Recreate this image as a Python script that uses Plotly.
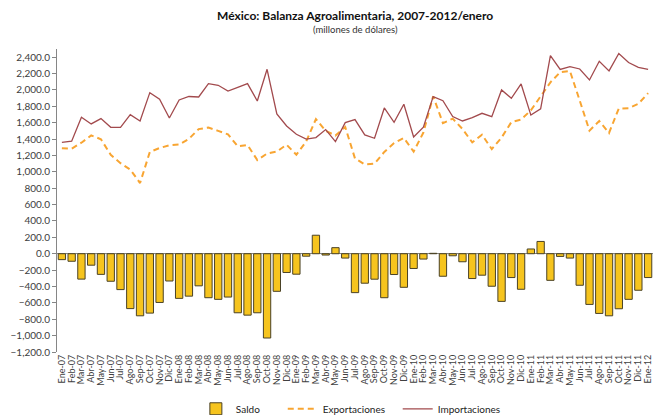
import plotly.graph_objects as go

categorias = [
    "Ene-07", "Feb-07", "Mar-07", "Abr-07", "May-07", "Jun-07", "Jul-07", "Ago-07", "Sep-07", "Oct-07", "Nov-07", "Dic-07",
    "Ene-08", "Feb-08", "Mar-08", "Abr-08", "May-08", "Jun-08", "Jul-08", "Ago-08", "Sep-08", "Oct-08", "Nov-08", "Dic-08",
    "Ene-09", "Feb-09", "Mar-09", "Abr-09", "May-09", "Jun-09", "Jul-09", "Ago-09", "Sep-09", "Oct-09", "Nov-09", "Dic-09",
    "Ene-10", "Feb-10", "Mar-10", "Abr-10", "May-10", "Jun-10", "Jul-10", "Ago-10", "Sep-10", "Oct-10", "Nov-10", "Dic-10",
    "Ene-11", "Feb-11", "Mar-11", "Abr-11", "May-11", "Jun-11", "Jul-11", "Ago-11", "Sep-11", "Oct-11", "Nov-11", "Dic-11",
    "Ene-12",
]

importaciones = [
    1360, 1374, 1666, 1585, 1650, 1544, 1544, 1698, 1621, 1967, 1886, 1658,
    1878, 1920, 1914, 2077, 2057, 1987, 2032, 2077, 1865, 2252, 1707, 1560,
    1459, 1400, 1418, 1516, 1369, 1601, 1638, 1451, 1410, 1780, 1605, 1825,
    1426, 1545, 1918, 1869, 1675, 1621, 1662, 1715, 1674, 2000, 1898, 2073,
    1693, 1770, 2418, 2250, 2284, 2256, 2122, 2350, 2233, 2445, 2335, 2276,
    2252,
]

exportaciones = [
    1288, 1282, 1356, 1445, 1398, 1208, 1106, 1028, 863, 1242, 1291, 1325,
    1333, 1402, 1522, 1540, 1500, 1458, 1311, 1327, 1144, 1223, 1248, 1331,
    1209, 1370, 1644, 1500, 1443, 1548, 1163, 1091, 1099, 1243, 1351, 1415,
    1246, 1480, 1923, 1594, 1650, 1523, 1359, 1453, 1277, 1418, 1607, 1639,
    1751, 1920, 2093, 2217, 2231, 1871, 1503, 1621, 1475, 1773, 1778, 1830,
    1961,
]

saldo = [
    -72, -92, -310, -140, -252, -336, -438, -670, -758, -725, -595, -333,
    -545, -518, -392, -537, -557, -529, -721, -750, -721, -1029, -459, -229,
    -250, -30, 226, -16, 74, -53, -475, -360, -311, -537, -254, -410,
    -180, -65, 5, -275, -25, -98, -303, -262, -397, -582, -291, -434,
    58, 150, -325, -33, -53, -385, -619, -729, -758, -672, -557, -446,
    -291,
]

y_ticks = [-1200, -1000, -800, -600, -400, -200, 0, 200, 400, 600, 800, 1000, 1200,
           1400, 1600, 1800, 2000, 2200, 2400]

FONT = "Lato"
TXT = "#404040"
NB = "\u00a0"

fig = go.Figure()
fig.add_trace(go.Bar(
    x=categorias, y=saldo, name="Saldo" + NB * 7,
    marker=dict(color="#F6C41E", line=dict(color="#4A4226", width=1)),
))
fig.add_trace(go.Scatter(
    x=categorias, y=exportaciones, name="Exportaciones" + NB * 3, mode="lines",
    line=dict(color="#F8A532", width=2, dash="6px,4px"),
))
fig.add_trace(go.Scatter(
    x=categorias, y=importaciones, name="Importaciones", mode="lines",
    line=dict(color="#A24A4D", width=1.3),
))

fig.update_layout(
    width=662, height=415,
    margin=dict(l=57, r=9, t=49, b=63, autoexpand=False),
    paper_bgcolor="white", plot_bgcolor="white",
    font=dict(family=FONT, size=10, color=TXT),
    bargap=0.25,
    showlegend=True,
    legend=dict(orientation="h", xref="container", yref="container",
                x=0.53, xanchor="center", y=0.015, yanchor="middle",
                font=dict(family=FONT, size=10, color="#222222"), traceorder="normal"),
    annotations=[
        dict(text="<b>México: Balanza Agroalimentaria, 2007-2012/enero</b>", xref="paper", yref="paper",
             x=0.5, y=0.112, xanchor="center", yanchor="middle", showarrow=False,
             font=dict(family=FONT, size=12, color="#111111")),
        dict(text="(millones de dólares)", xref="paper", yref="paper",
             x=0.5, y=0.063, xanchor="center", yanchor="middle", showarrow=False,
             font=dict(family=FONT, size=9.5, color="#333333")),
    ],
)
# annotations positioned relative to the top of the plot area
for a in fig.layout.annotations:
    a.y = 1 + a.y

fig.update_xaxes(
    type="category", range=[-0.5, len(categorias) - 0.5],
    tickmode="array", tickvals=categorias, ticktext=categorias,
    tickangle=-90, tickfont=dict(family=FONT, size=9, color=TXT),
    showgrid=False, showline=False, ticks="", automargin=False,
)
fig.update_yaxes(
    range=[-1200, 2500], tickvals=y_ticks, tickformat=",.1f",
    showgrid=False, showline=True, linecolor="#868686", linewidth=1,
    ticks="outside", ticklen=4, tickcolor="#868686",
    zeroline=True, zerolinecolor="#868686", zerolinewidth=1,
    tickfont=dict(family=FONT, size=10, color=TXT), automargin=False,
)

fig.write_html("out.html", config={"displayModeBar": False},
               post_script="document.body.style.margin='0';document.body.style.overflow='hidden';")
